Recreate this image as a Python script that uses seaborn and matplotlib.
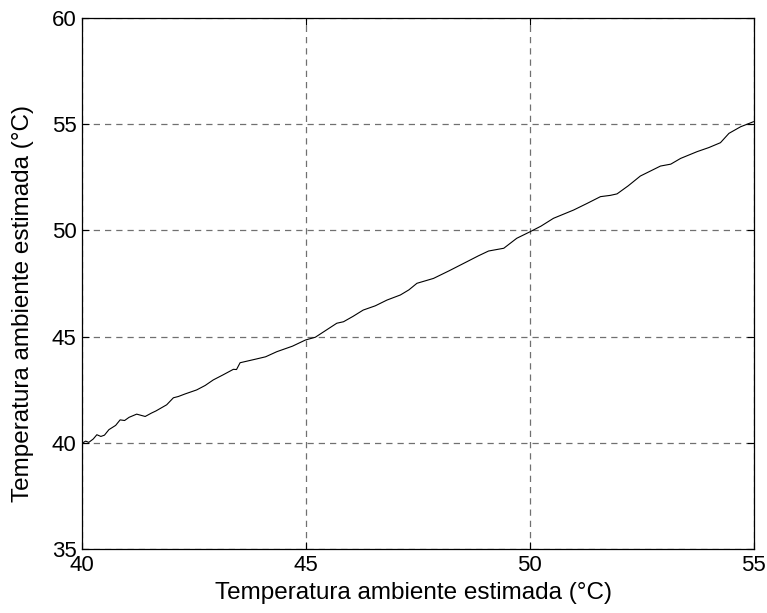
import numpy as np
import pandas as pd
import matplotlib
matplotlib.use("Agg")
import matplotlib.pyplot as plt
import seaborn as sns

# values
temp_real = [40.0, 40.08, 40.15, 40.25, 40.33, 40.42, 40.5, 40.6, 40.75, 40.85,
             40.95, 41.05, 41.22, 41.41, 41.55, 41.65, 41.89, 42.04, 42.15, 42.3,
             42.56, 42.75, 42.93, 43.15, 43.38, 43.45, 43.53, 43.9, 44.1, 44.35,
             44.7, 44.99, 45.21, 45.45, 45.69, 45.84, 46.05, 46.28, 46.55, 46.81,
             47.11, 47.3, 47.48, 47.85, 48.2, 48.6, 48.85, 49.08, 49.42, 49.71,
             50.01, 50.25, 50.53, 50.98, 51.28, 51.58, 51.8, 51.95, 52.2, 52.47,
             52.7, 52.92, 53.15, 53.37, 53.74, 54.0, 54.26, 54.45, 54.71, 55.0]
temp_est = [39.98, 40.08, 40.02, 40.18, 40.38, 40.3, 40.36, 40.62, 40.82, 41.08,
            41.05, 41.2, 41.35, 41.24, 41.4, 41.5, 41.79, 42.12, 42.18, 42.3,
            42.49, 42.7, 42.96, 43.2, 43.46, 43.45, 43.77, 43.95, 44.05, 44.29,
            44.55, 44.84, 44.97, 45.3, 45.63, 45.7, 45.95, 46.25, 46.45, 46.72,
            46.96, 47.2, 47.51, 47.74, 48.1, 48.53, 48.8, 49.03, 49.16, 49.63,
            49.94, 50.2, 50.57, 50.96, 51.27, 51.59, 51.65, 51.72, 52.1, 52.56,
            52.8, 53.03, 53.12, 53.39, 53.71, 53.9, 54.13, 54.57, 54.88, 55.12]
x_ticks = [40, 45, 50, 55]
y_ticks = [35, 40, 45, 50, 55, 60]
label = "Temperatura ambiente estimada (°C)"

df = pd.DataFrame({"real": temp_real, "est": temp_est})

sns.set_style("white")
plt.rcParams["font.family"] = ["Liberation Sans", "DejaVu Sans"]
plt.rcParams["text.color"] = "black"

fig = plt.figure(figsize=(7.67, 6.13), dpi=100)
ax = fig.add_axes([0.107, 0.1044, 0.8755, 0.8662])

sns.lineplot(data=df, x="real", y="est", estimator=None, sort=False,
             color="black", linewidth=0.8, ax=ax)

ax.set_xlim(40, 55)
ax.set_ylim(35, 60)
ax.set_xticks(x_ticks)
ax.set_yticks(y_ticks)
ax.grid(True, color="#707070", linestyle=(0, (5, 4)), linewidth=0.9)

for s in ax.spines.values():
    s.set_color("black")
    s.set_linewidth(0.9)

ax.tick_params(direction="in", length=5, width=0.8, top=True, right=True,
               bottom=True, left=True, colors="black", labelsize=16)
ax.tick_params(axis="x", pad=4)
ax.tick_params(axis="y", pad=4)

ax.set_xlabel(label, fontsize=17.5, color="black")
ax.set_ylabel(label, fontsize=17.5, color="black")
ax.xaxis.set_label_coords(0.493, -0.062)
ax.yaxis.set_label_coords(-0.072, 0.463)

fig.savefig("out.png", dpi=100)
